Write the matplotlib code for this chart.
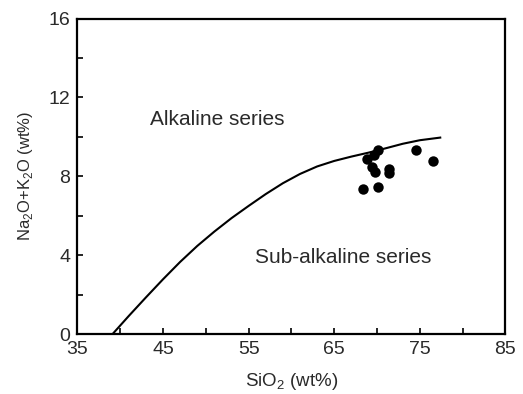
import matplotlib
matplotlib.use("Agg")
import matplotlib.pyplot as plt
from matplotlib.ticker import MultipleLocator

plt.rcParams['font.family'] = ['Liberation Sans', 'DejaVu Sans']
plt.rcParams['mathtext.fontset'] = 'custom'
plt.rcParams['mathtext.rm'] = 'Liberation Sans'

# Irvine & Baragar (1971) alkaline / sub-alkaline boundary
curve_sio2 = [39.1, 41.0, 43.0, 45.0, 47.0, 49.0, 51.0, 53.0, 55.0, 57.0,
              59.0, 61.0, 63.0, 65.0, 67.0, 69.0, 71.0, 73.0, 75.0, 77.5]
curve_alk = [0.0, 0.92, 1.86, 2.78, 3.66, 4.47, 5.2, 5.88, 6.5, 7.1,
             7.65, 8.12, 8.5, 8.78, 9.0, 9.2, 9.42, 9.65, 9.83, 9.97]

# Sample compositions
sample_sio2 = [69.7, 70.1, 68.8, 69.4, 69.8, 71.4, 71.4, 68.4, 70.1, 74.5, 76.5]
sample_alk = [9.1, 9.35, 8.89, 8.45, 8.2, 8.39, 8.19, 7.38, 7.46, 9.35, 8.76]

xticks = [35, 45, 55, 65, 75, 85]
yticks = [0, 4, 8, 12, 16]

text_col = '#2a2a2a'

fig = plt.figure(figsize=(5.23, 3.94), dpi=100)
ax = fig.add_axes([0.148, 0.152, 0.8185, 0.801])

ax.plot(curve_sio2, curve_alk, color='black', lw=1.5, solid_capstyle='butt',
        solid_joinstyle='round')
ax.plot(sample_sio2, sample_alk, 'o', color='black', ms=7.5, mec='none')

ax.set_xlim(35, 85)
ax.set_ylim(0, 16)
ax.set_xticks(xticks)
ax.set_yticks(yticks)
ax.xaxis.set_minor_locator(MultipleLocator(5))
ax.yaxis.set_minor_locator(MultipleLocator(2))
ax.tick_params(which='both', direction='in', length=4, width=1.2,
               top=False, right=False, labelsize=14, colors='black',
               labelcolor=text_col)
ax.tick_params(axis='x', pad=5)
ax.tick_params(axis='y', pad=5)
for s in ax.spines.values():
    s.set_linewidth(1.6)

ax.set_xlabel('SiO$_2$ (wt%)', fontsize=13.5, color=text_col, labelpad=9)
ax.set_ylabel('Na$_2$O+K$_2$O (wt%)', fontsize=12, color=text_col, labelpad=10)

ax.text(43.5, 10.9, 'Alkaline series', fontsize=15, color=text_col,
        ha='left', va='center')
ax.text(55.8, 3.9, 'Sub-alkaline series', fontsize=15, color=text_col,
        ha='left', va='center')

fig.savefig('out.png', dpi=100)
